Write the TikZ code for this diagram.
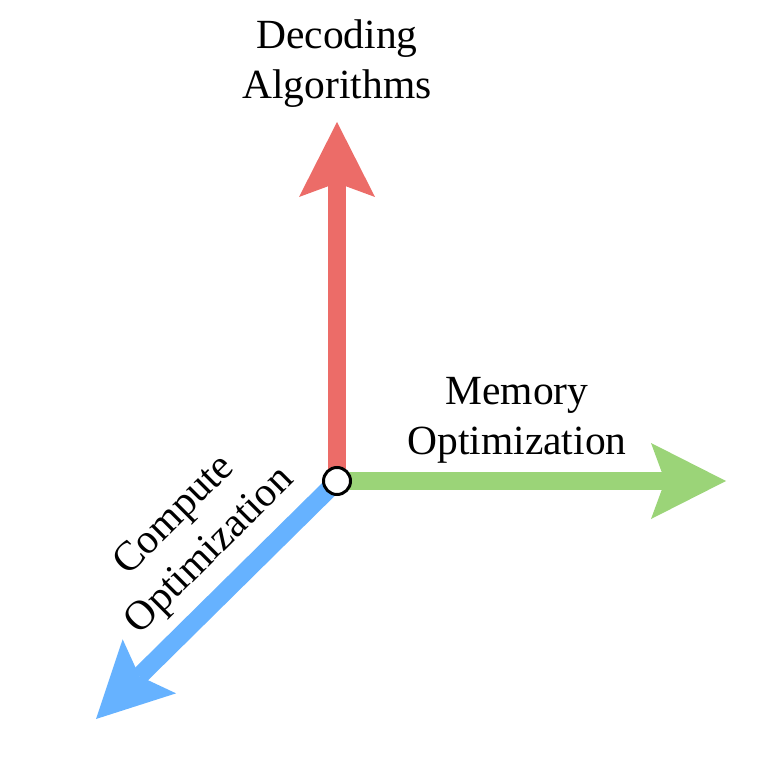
\documentclass[tikz,border=0pt]{standalone}
\usepackage{fontspec}
\setmainfont{Liberation Serif}
\usetikzlibrary{arrows.meta}
\definecolor{axred}{RGB}{236,108,104}
\definecolor{axgreen}{RGB}{155,212,120}
\definecolor{axblue}{RGB}{102,178,255}
\begin{document}
\begin{tikzpicture}[x=1pt,y=1pt,
  axis/.style={line width=18pt,
    -{Stealth[length=75pt,width=76pt,inset=14pt,line width=0pt]}},
  lbl/.style={font=\fontsize{41.5}{50}\selectfont, align=center, inner sep=0pt},
  origin/.style={circle, draw=black, fill=white, line width=3pt,
    minimum size=27pt, inner sep=0pt}]
\useasboundingbox (0,0) rectangle (762,756);
\coordinate (o) at (337,275);
\coordinate (up) at (337,634);
\coordinate (right) at (726,275);
\coordinate (down) at (96,37);
\draw[axis, axred] (o) -- (up);
\draw[axis, axgreen] (o) -- (right);
\draw[axis, axblue] (o) -- (down);
\node[origin] (c) at (o) {};
\node[lbl] (dec) at (337,692.5) {Decoding\\Algorithms};
\node[lbl] (mem) at (517,336) {Memory\\Optimization};
\node[lbl, rotate=45] (comp) at (193,222) {Compute\\Optimization};
\end{tikzpicture}
\end{document}
